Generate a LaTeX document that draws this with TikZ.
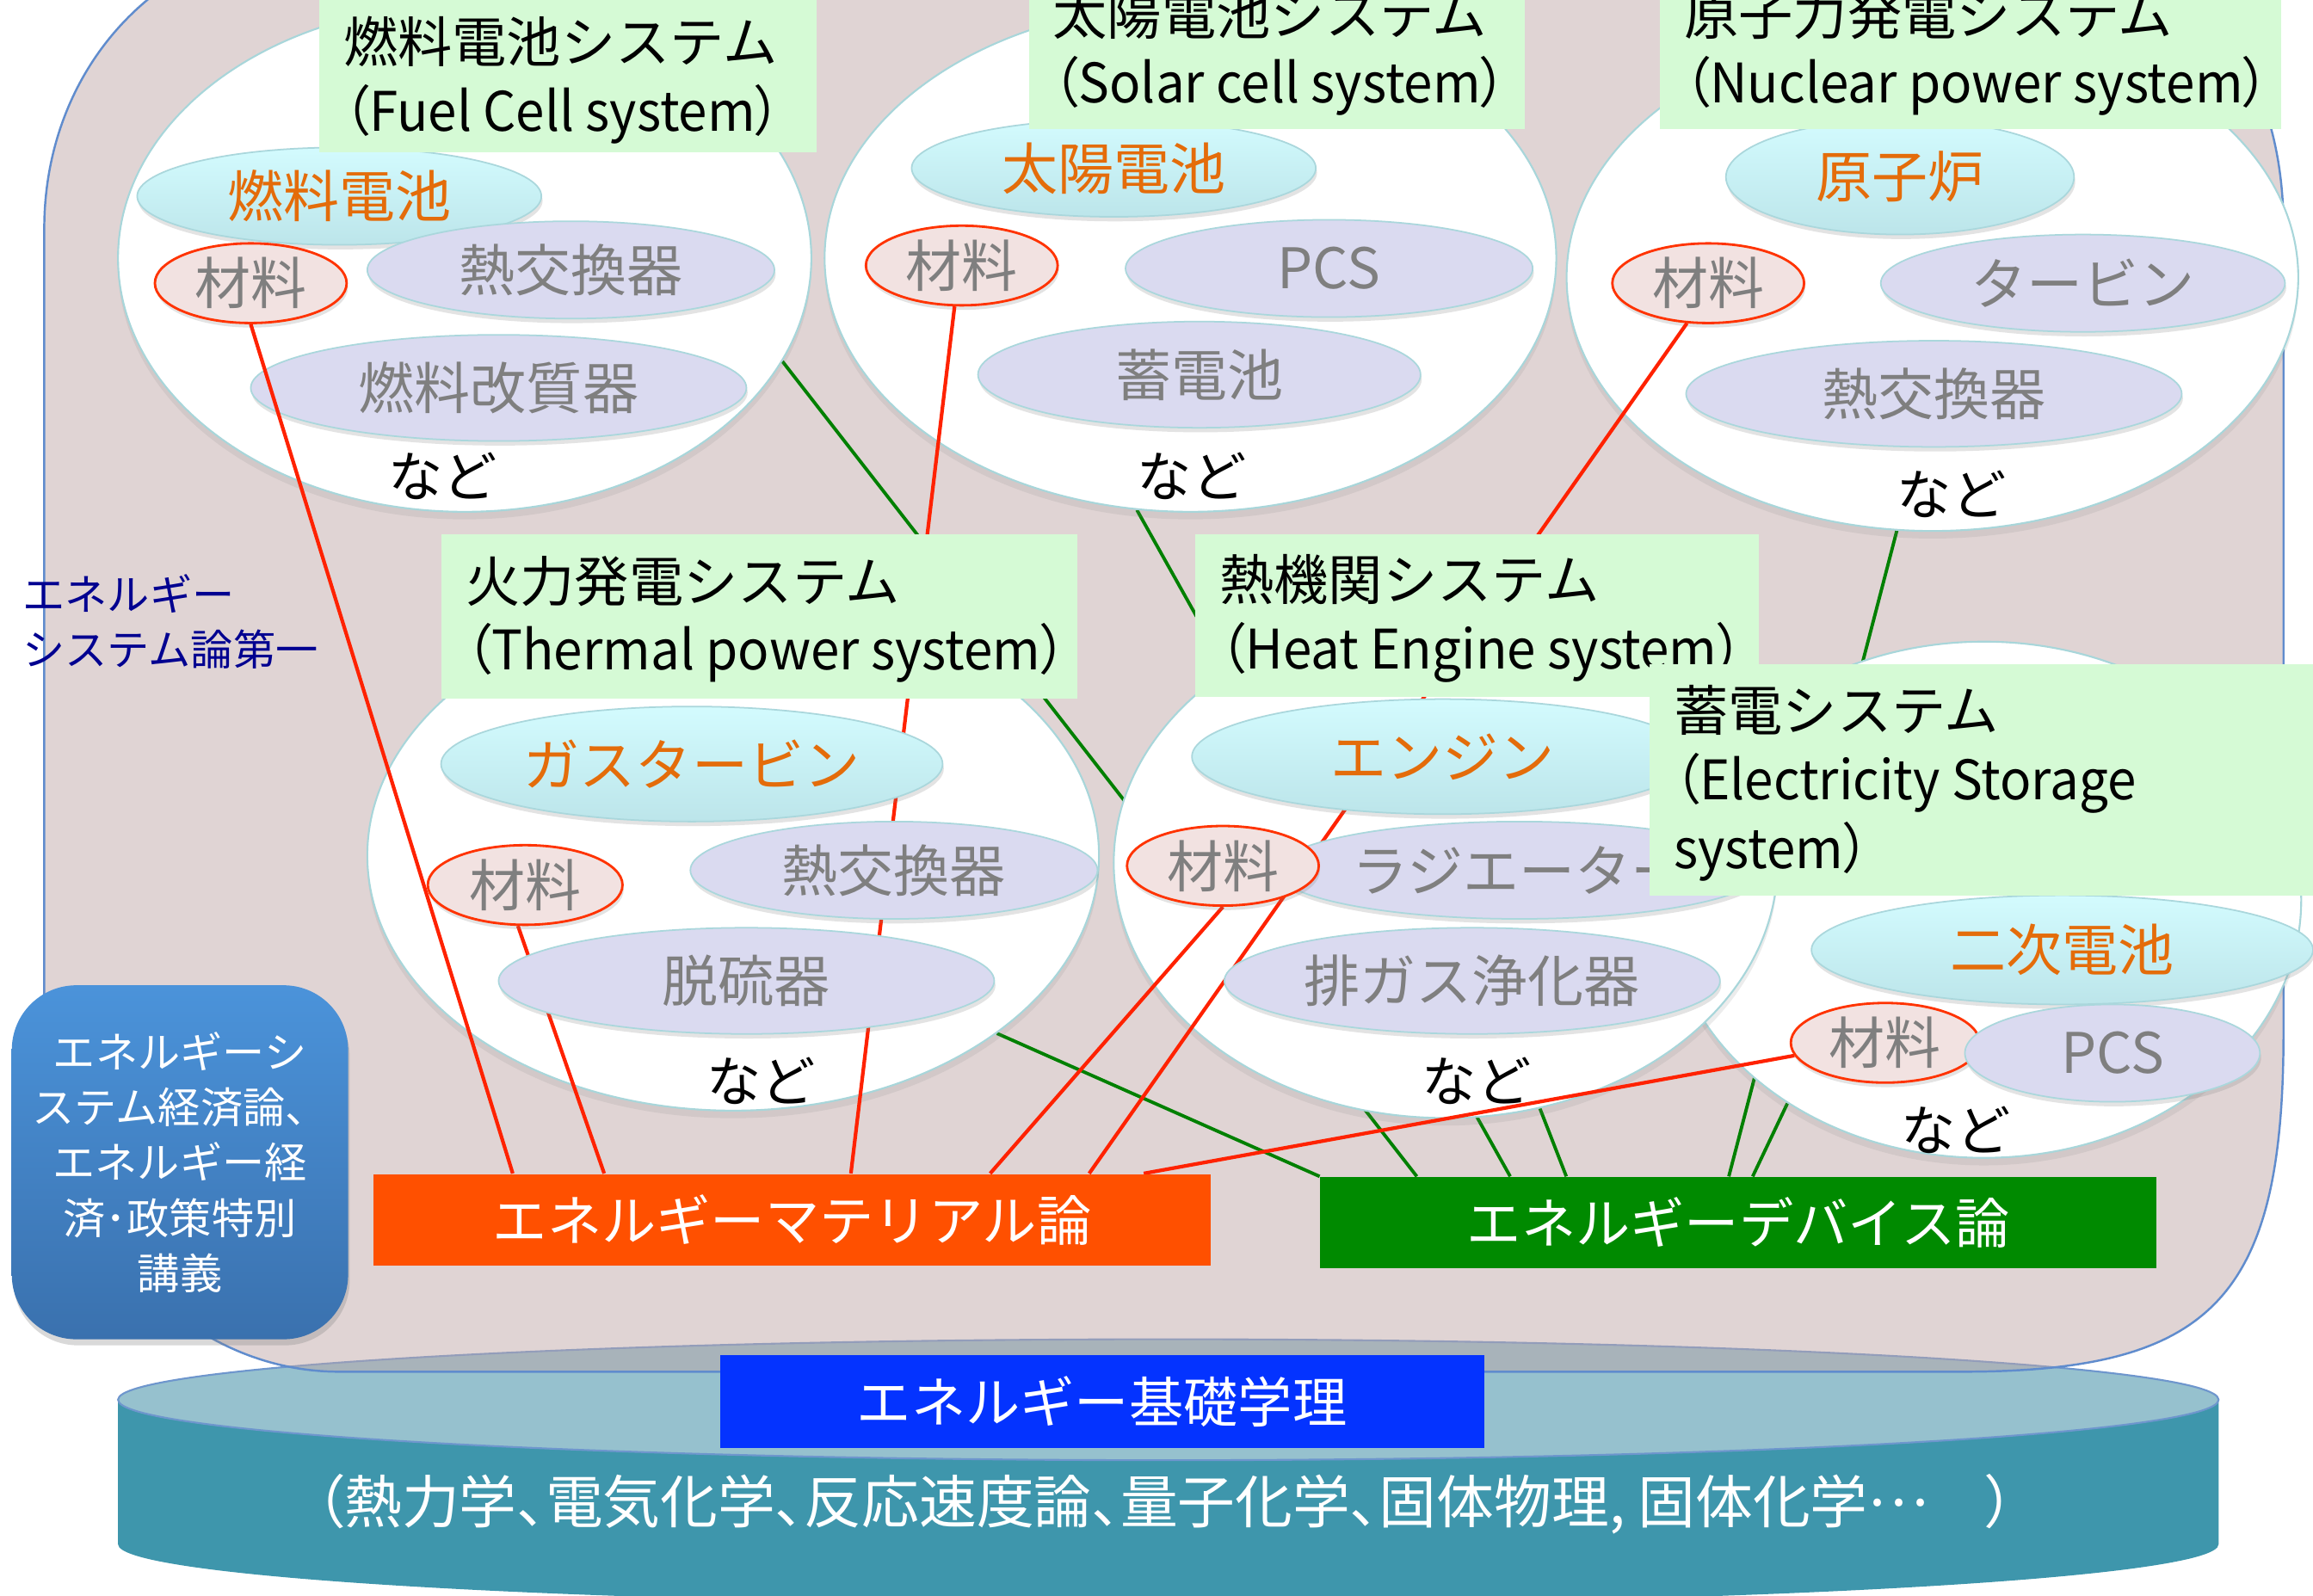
\documentclass[tikz,border=0pt]{standalone}
\usepackage{fontspec}
\setmainfont{Noto Sans CJK JP}
\newfontfamily\jpp[RawFeature=+palt]{Noto Sans CJK JP}
\newfontfamily\jpn[RawFeature=+palt,FakeStretch=0.95]{Noto Sans CJK JP}
\usetikzlibrary{shapes.geometric,calc,shadows}
\pgfdeclarelayer{base}
\pgfdeclarelayer{gl}
\pgfdeclarelayer{cone}
\pgfdeclarelayer{rl}
\pgfdeclarelayer{ctwo}
\pgfsetlayers{base,gl,cone,rl,ctwo,main}
\definecolor{bgpink}{RGB}{190,165,165}
\definecolor{bgline}{RGB}{96,140,205}
\definecolor{cylside}{RGB}{62,150,172}
\definecolor{cyltop}{RGB}{150,193,206}
\definecolor{cylbd}{RGB}{110,150,205}
\definecolor{ttlgreen}{RGB}{213,250,213}
\definecolor{circbd}{RGB}{168,214,218}
\definecolor{cyanT}{RGB}{211,251,254}
\definecolor{cyanB}{RGB}{188,229,234}
\definecolor{cyanbd}{RGB}{170,215,220}
\definecolor{lav}{RGB}{218,218,240}
\definecolor{matfill}{RGB}{242,226,225}
\definecolor{matbd}{RGB}{255,51,0}
\definecolor{orangetxt}{RGB}{228,108,10}
\definecolor{greytxt}{RGB}{127,127,127}
\definecolor{redline}{RGB}{255,34,0}
\definecolor{greenline}{RGB}{0,128,0}
\definecolor{matboxc}{RGB}{255,80,0}
\definecolor{devboxc}{RGB}{0,138,0}
\definecolor{basicblue}{RGB}{4,51,255}
\definecolor{navy}{RGB}{0,0,144}
\definecolor{lbTop}{RGB}{75,147,218}
\definecolor{lbBot}{RGB}{58,113,174}
\newcommand\uu{0.017143cm}
\newcommand\myT{\fontsize{18}{22.7}\selectfont}
\newcommand\myI{\fontsize{18.5}{22}\selectfont}
\newcommand\myS{\fontsize{14}{18.3}\selectfont}
\newcommand\myB{\fontsize{18}{22}\selectfont}
\begin{document}
\begin{tikzpicture}[x=\uu,y=-\uu,
  el/.style 2 args={ellipse,inner sep=0pt,minimum width=#1*\uu,minimum height=#2*\uu},
  sh/.style={drop shadow={opacity=.22,shadow xshift=.4pt,shadow yshift=-1.5pt}},
  bigc/.style={fill=white,draw=circbd,line width=.6pt,drop shadow={opacity=.15,shadow xshift=0pt,shadow yshift=-2.5pt}},
  cy/.style={draw=cyanbd,line width=.5pt,top color=cyanT,bottom color=cyanB,text=orangetxt,font=\myI,sh},
  lv/.style={draw=cyanbd,line width=.5pt,fill=lav,text=greytxt,font=\myI,sh},
  mt/.style={draw=matbd,line width=.8pt,fill=matfill,text=greytxt,font=\myI,sh},
  nado/.style={font=\myT,inner sep=0pt},
  tbox/.style 2 args={fill=ttlgreen,inner sep=0pt,anchor=north west,minimum width=#1*\uu,minimum height=#2*\uu},
  ttxt/.style={anchor=west,align=left,font=\myT,inner sep=0pt},
  rl/.style={draw=redline,line width=1.2pt},
  gln/.style={draw=greenline,line width=1.1pt},
  bbox/.style 2 args={inner sep=0pt,text=white,font=\myB,minimum width=#1*\uu,minimum height=#2*\uu}
]
\useasboundingbox (0,0) rectangle (1568,1082);

% ---------- base: cylinder and background ----------
\begin{pgfonlayer}{base}
\fill[cylside] (80,949) -- (80,1047) .. controls (80,1070) and (399,1088) .. (792,1088)
  .. controls (1185,1088) and (1504,1070) .. (1504,1047) -- (1504,949) -- cycle;
\node[el={1424}{82},fill=cyltop,draw=cylbd,line width=.6pt] (disk) at (792,949) {};
\path[fill=bgpink,fill opacity=.476,draw=bgline,line width=.7pt]
  (30,155) -- (30,700) .. controls (30,827) and (120,930) .. (230,930) -- (1330,930)
  .. controls (1500,930) and (1548,880) .. (1548,700) -- (1548,155)
  .. controls (1548,45) and (1490,-45) .. (1348,-45) -- (230,-45)
  .. controls (110,-45) and (30,45) .. (30,155) -- cycle;
\end{pgfonlayer}

% ---------- top row systems ----------
\begin{pgfonlayer}{cone}
\node[bigc,el={470}{344}] (A) at (315,175) {};
\node[cy,el={274}{66}] (A1) at (230,133) {燃料電池};
\node[mt,el={130}{54}] (A_mat) at (170,192) {材料};
\node[lv,el={276}{66}] (A2) at (387,183) {熱交換器};
\node[lv,el={336}{72}] (A3) at (338,263) {燃料改質器};
\node[nado] (An) at (300,323) {など};

\node[bigc,el={496}{344}] (B) at (807,175) {};
\node[cy,el={274}{66}] (B1) at (755,114) {太陽電池};
\node[mt,el={130}{54}] (B_mat) at (652,180) {材料};
\node[lv,el={276}{66}] (B2) at (901,182) {PCS};
\node[lv,el={300}{72}] (B3) at (813,254) {蓄電池};
\node[nado] (Bn) at (808,323) {など};

\node[bigc,el={496}{344}] (C) at (1310,188) {};
\node[cy,el={236}{78}] (C1) at (1288,120) {原子炉};
\node[mt,el={130}{54}] (C_mat) at (1158,192) {材料};
\node[lv,el={274}{66}] (C2) at (1412,192) {タービン};
\node[lv,el={336}{72}] (C3) at (1311,267) {熱交換器};
\node[nado] (Cn) at (1323,335) {など};

\node[bigc,el={496}{346}] (D) at (497,580) {};
\node[bigc,el={430}{350}] (F) at (1345,610) {};
\node[bigc,el={450}{346}] (E) at (980,585) {};
\end{pgfonlayer}

% ---------- second row inner parts ----------
\begin{pgfonlayer}{ctwo}
\node[cy,el={340}{78}] (D1) at (469,518) {ガスタービン};
\node[mt,el={132}{54}] (D_mat) at (356,600) {材料};
\node[lv,el={276}{66}] (D2) at (606,590) {熱交換器};
\node[lv,el={336}{72}] (D3) at (506,665) {脱硫器};
\node[nado] (Dn) at (516,733) {など};

\node[cy,el={340}{78}] (E1) at (978,513) {エンジン};
\node[lv,el={330}{66}] (E2) at (1030,590) {ラジエーター};
\node[mt,el={130}{54}] (E_mat) at (829,587) {材料};
\node[lv,el={336}{72}] (E3) at (998,665) {排ガス浄化器};
\node[nado] (En) at (1001,733) {など};

\node[cy,el={340}{74}] (F1) at (1398,644) {二次電池};
\node[mt,el={128}{54}] (F_mat) at (1278,707) {材料};
\node[lv,el={200}{66}] (F2) at (1432,714) {PCS};
\node[nado] (Fn) at (1326,766) {など};
\end{pgfonlayer}

% ---------- titles ----------
\node[tbox={337}{106}] (At) at (216,-3) {};
\node[ttxt] (Att) at ([xshift=.28cm,yshift=-2pt]At.west) {燃料電池システム\\{\jpn （Fuel Cell system）}};
\node[tbox={336}{108}] (Bt) at (697,-21) {};
\node[ttxt] (Btt) at ([xshift=.28cm,yshift=-1pt]Bt.west) {太陽電池システム\\{\jpn （Solar cell system）}};
\node[tbox={421}{108}] (Ct) at (1125,-21) {};
\node[ttxt] (Ctt) at ([xshift=.28cm,yshift=-1pt]Ct.west) {原子力発電システム\\{\jpn （Nuclear power system）}};
\node[tbox={431}{111}] (Dt) at (299,362) {};
\node[ttxt] (Dtt) at ([xshift=.28cm,yshift=-1pt]Dt.west) {火力発電システム\\{\jpn （Thermal power system）}};
\node[tbox={382}{110}] (Et) at (810,362) {};
\node[ttxt] (Ett) at ([xshift=.28cm,yshift=-1pt]Et.west) {熱機関システム\\{\jpn （Heat Engine system）}};
\node[tbox={460}{157}] (Ft) at (1118,450) {};
\node[ttxt] (Ftt) at ([xshift=.28cm,yshift=-1pt]Ft.west) {蓄電システム\\{\jpn （Electricity Storage}\\{\jpn system）}};

% ---------- bottom boxes ----------
\node[bbox={568}{62},fill=matboxc] (matbox) at (537,827) {エネルギーマテリアル論};
\node[bbox={567}{62},fill=devboxc] (devbox) at (1178.5,829) {エネルギーデバイス論};
\node[bbox={518}{63},fill=basicblue] (basics) at (747,950.5) {エネルギー基礎学理};
\node[text=white,inner sep=0pt,font=\jpp\fontsize{19}{22}\selectfont] (basicsub) at (790,1020)
  {（熱力学、電気化学、反応速度論、量子化学、固体物理, 固体化学\raisebox{0.3em}{…}　）};

\node[rounded corners=.75cm,top color=lbTop,bottom color=lbBot,minimum width=228*\uu,minimum height=240*\uu,
  inner sep=0pt,text=white,align=center,font=\myS,
  drop shadow={opacity=.3,shadow xshift=.5pt,shadow yshift=-2pt}] (lbox) at (122,788)
  {エネルギーシ\\ステム経済論、\\エネルギー経\\済･政策特別\\講義};
\node[anchor=west,align=left,text=navy,font=\myS,inner sep=0pt] (sysl) at (15,421.5)
  {エネルギー\\システム論第一};

% ---------- connectors ----------
\begin{pgfonlayer}{gl}
\draw[gln] (A.-18) -- ($(devbox.north west)!0.116!(devbox.north east)$);
\draw[gln] (B.-102) -- ($(devbox.north west)!0.2275!(devbox.north east)$);
\draw[gln] (E.-69) -- ($(devbox.north west)!0.2945!(devbox.north east)$);
\draw[gln] (C.-98) -- ($(devbox.north west)!0.4885!(devbox.north east)$);
\draw[gln] (F.-134) -- ($(devbox.north west)!0.517!(devbox.north east)$);
\draw[gln] (D.-34) -- (devbox.north west);
\end{pgfonlayer}
\begin{pgfonlayer}{rl}
\draw[rl] (A_mat.south) -- ($(matbox.north west)!0.167!(matbox.north east)$);
\draw[rl] (D_mat.-100) -- ($(matbox.north west)!0.276!(matbox.north east)$);
\draw[rl] (B_mat.-100) -- ($(matbox.north west)!0.570!(matbox.north east)$);
\draw[rl] (E_mat.south) -- ($(matbox.north west)!0.736!(matbox.north east)$);
\draw[rl] (C_mat.-118) -- ($(matbox.north west)!0.854!(matbox.north east)$);
\draw[rl] (F_mat.188) -- ($(matbox.north west)!0.919!(matbox.north east)$);
\end{pgfonlayer}
\end{tikzpicture}
\end{document}
